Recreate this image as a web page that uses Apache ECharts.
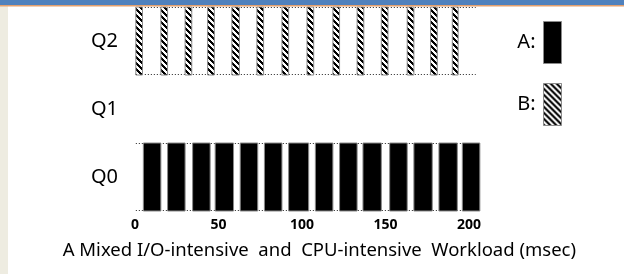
<!DOCTYPE html>
<html>
<head>
<meta charset="utf-8">
<script src="https://cdn.jsdelivr.net/npm/echarts@6/dist/echarts.min.js"></script>
<style>html,body{margin:0;padding:0;background:#fff}#c{width:624px;height:274px}</style>
</head>
<body>
<div id="c"></div>
<script>
// ---- data ----
var categories = ['Q0', 'Q1', 'Q2'];
var xTicks = [0, 50, 100, 150, 200];
// Job A runs in Q0 (start, end in msec)
var jobAStart = [5, 19.5, 34.5, 48, 63, 77.5, 92, 108, 122.5, 136.5, 152.5, 167, 182, 196];
var jobAEnd   = [15.5, 30, 45, 59, 73.5, 88, 104, 118.5, 133, 147.5, 163, 178, 193, 206.5];
// Job B runs in Q2
var jobBStart = [0.5, 15.5, 30, 43.5, 58, 73, 88, 103, 118.5, 133, 147.5, 163, 177, 190];
var jobBEnd   = [4.5, 19.5, 34, 47.5, 62.5, 77, 92, 107, 122.5, 137, 151.5, 167, 181, 193.5];
// queue rows with dotted outline (queue, start, end)
var rowQueue = ['Q0', 'Q2'];
var rowStart = [0.5, 0.5];
var rowEnd   = [207, 204];
var xLabel = 'A Mixed I/O-intensive  and  CPU-intensive  Workload (msec)';

// ---- hatch pattern ----
function makeHatch() {
  var s = 6;
  var cv = document.createElement('canvas');
  cv.width = s; cv.height = s;
  var ctx = cv.getContext('2d');
  ctx.fillStyle = '#fff';
  ctx.fillRect(0, 0, s, s);
  ctx.fillStyle = '#000';
  for (var y = 0; y < s; y++) {
    for (var x = 0; x < s; x++) {
      var d = ((x - y) % s + s) % s;
      if (d < 3) ctx.fillRect(x, y, 1, 1);
    }
  }
  return {image: cv, repeat: 'repeat'};
}
var hatch = makeHatch();

function toData(q, starts, ends) {
  var ci = categories.indexOf(q);
  return starts.map(function (s, i) { return [ci, s, ends[i]]; });
}
var aData = toData('Q0', jobAStart, jobAEnd);
var bData = toData('Q2', jobBStart, jobBEnd);
var rowData = rowQueue.map(function (q, i) { return [categories.indexOf(q), rowStart[i], rowEnd[i]]; });

function barRender(fill) {
  return function (params, api) {
    var c = api.value(0);
    var s = api.coord([api.value(1), c]);
    var e = api.coord([api.value(2), c]);
    var h = api.size([0, 1])[1];
    return {
      type: 'rect',
      shape: {x: s[0], y: s[1] - h / 2, width: e[0] - s[0], height: h},
      style: {fill: fill, stroke: '#8a8a8a', lineWidth: 1}
    };
  };
}

function rowRender(params, api) {
  var c = api.value(0);
  var s = api.coord([api.value(1), c]);
  var e = api.coord([api.value(2), c]);
  var h = api.size([0, 1])[1];
  var top = Math.round(s[1] - h / 2) + 0.5;
  var bot = Math.round(s[1] + h / 2) - 0.5;
  var st = {stroke: '#222', lineWidth: 1, lineDash: [1, 2]};
  return {
    type: 'group',
    children: [
      {type: 'line', shape: {x1: s[0], y1: top, x2: e[0], y2: top}, style: st},
      {type: 'line', shape: {x1: s[0], y1: bot, x2: e[0], y2: bot}, style: st}
    ]
  };
}

var chart = echarts.init(document.getElementById('c'));
chart.setOption({
  animation: false,
  backgroundColor: '#fff',
  grid: {left: 135, top: 7, width: 350.7, height: 204, containLabel: false},
  xAxis: {
    type: 'value', min: 0, max: 210, interval: 50,
    axisLine: {show: false}, axisTick: {show: false}, splitLine: {show: false},
    axisLabel: {
      margin: 7, fontSize: 14, fontWeight: 'bold', color: '#000', fontFamily: 'Noto Sans',
      formatter: function (v) { return xTicks.indexOf(v) >= 0 ? String(v) : ''; }
    },
    name: xLabel, nameLocation: 'middle', nameGap: 30,
    nameTextStyle: {fontSize: 18.5, color: '#000', fontFamily: 'Noto Sans', padding: [0, 0, 0, 18]}
  },
  yAxis: {
    type: 'category', data: categories,
    axisLine: {show: false}, axisTick: {show: false}, splitLine: {show: false},
    axisLabel: {margin: 17, fontSize: 20, color: '#000', fontFamily: 'Noto Sans'}
  },
  legend: {
    data: ['A', 'B'], orient: 'vertical', right: 57, top: 16,
    itemWidth: 18, itemHeight: 42, itemGap: 19, align: 'right', icon: 'rect',
    selectedMode: false, formatter: '{name}:',
    itemStyle: {borderColor: '#8a8a8a', borderWidth: 1},
    textStyle: {fontSize: 20, color: '#000', fontFamily: 'Noto Sans', padding: [0, 3, 0, 0]}
  },
  series: [
    {type: 'custom', name: 'rows', renderItem: rowRender, data: rowData, encode: {x: [1, 2], y: 0}, z: 1, silent: true},
    {type: 'custom', name: 'A', renderItem: barRender('#000'), data: aData, encode: {x: [1, 2], y: 0}, itemStyle: {color: '#000'}, z: 2},
    {type: 'custom', name: 'B', renderItem: barRender(hatch), data: bData, encode: {x: [1, 2], y: 0}, itemStyle: {color: hatch}, z: 2}
  ],
  graphic: [
    {type: 'rect', z: 100, shape: {x: 0, y: 0, width: 8, height: 274}, style: {fill: '#EEECE1'}},
    {type: 'rect', z: 101, shape: {x: 0, y: 0, width: 624, height: 5}, style: {fill: '#4F81BD'}},
    {type: 'rect', z: 101, shape: {x: 0, y: 5, width: 624, height: 1.5}, style: {fill: '#E3A06E'}}
  ]
});
</script>
</body>
</html>
